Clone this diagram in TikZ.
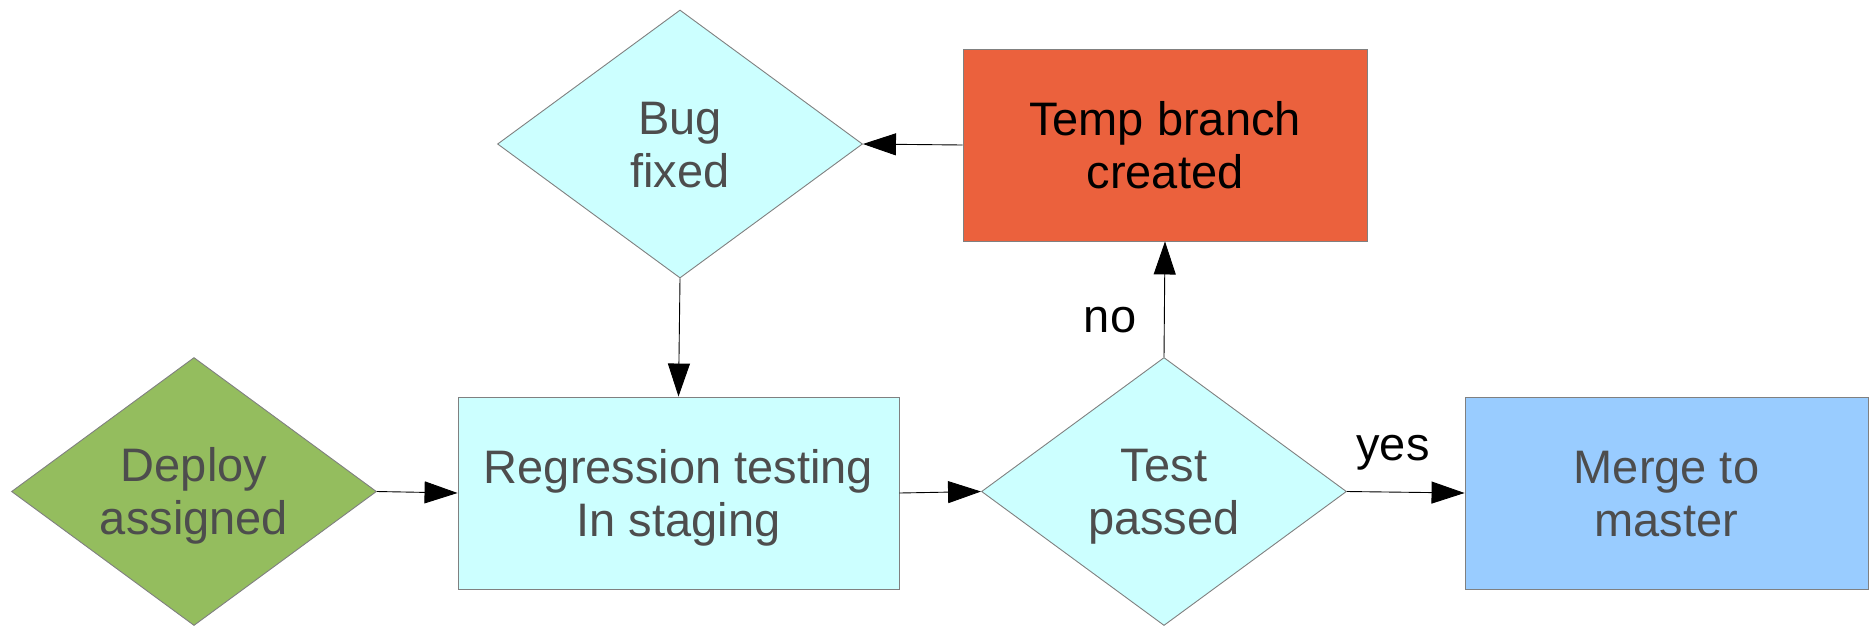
\documentclass[tikz,border=0pt]{standalone}
\usepackage{fontspec}
\setmainfont{Liberation Sans}
\usetikzlibrary{shapes.geometric,arrows.meta}
\definecolor{deploygreen}{HTML}{94BD5E}
\definecolor{lightcyan}{HTML}{CCFFFF}
\definecolor{tempred}{HTML}{EB613D}
\definecolor{mergeblue}{HTML}{99CCFF}
\definecolor{bordergray}{HTML}{808080}
\definecolor{textgray}{HTML}{4D4D4D}
\newcommand{\mytwolines}[2]{\rule{0pt}{43pt}#1\\#2\rule[-10pt]{0pt}{10pt}}
\tikzset{
  base/.style={draw=bordergray, line width=0.9pt, inner sep=0pt, align=center,
    font=\fontsize{47}{53}\selectfont, text=textgray},
  decision/.style={base, diamond, shape aspect=1.36, minimum width=365pt, minimum height=268pt},
  procbox/.style={base, rectangle},
  conn/.style={line width=0.9pt, -{Triangle[length=33pt,width=22pt]}},
  lbl/.style={font=\fontsize{47}{53}\selectfont, inner sep=0pt, anchor=base},
}
\begin{document}
\begin{tikzpicture}[x=1pt,y=-1pt]
\useasboundingbox (0,0) rectangle (1869,625);
\node[decision, fill=deploygreen] (deploy) at (194,491.5) {\mytwolines{Deploy}{assigned}};
\node[procbox, fill=lightcyan, minimum width=441pt, minimum height=192pt] (reg) at (678.5,493) {\mytwolines{Regression testing}{In staging}};
\node[decision, fill=lightcyan] (test) at (1164,491.5) {\mytwolines{Test}{passed}};
\node[procbox, fill=mergeblue, minimum width=403pt, minimum height=192pt] (merge) at (1666.5,493) {\mytwolines{Merge to}{master}};
\node[decision, fill=lightcyan] (bug) at (680,144) {\mytwolines{Bug}{fixed}};
\node[procbox, fill=tempred, text=black, minimum width=404pt, minimum height=192pt] (temp) at (1165,145) {\mytwolines{Temp branch}{created}};
\draw[conn] (deploy.east) -- (reg.west);
\draw[conn] (reg.east) -- (test.west);
\draw[conn] (test.east) -- (merge.west);
\draw[conn] (test.north) -- (temp.south);
\draw[conn] (temp.west) -- (bug.east);
\draw[conn] (bug.south) -- (reg.north);
\node[lbl] (no) at (1110,332) {no};
\node[lbl] (yes) at (1393,460) {yes};
\end{tikzpicture}
\end{document}
